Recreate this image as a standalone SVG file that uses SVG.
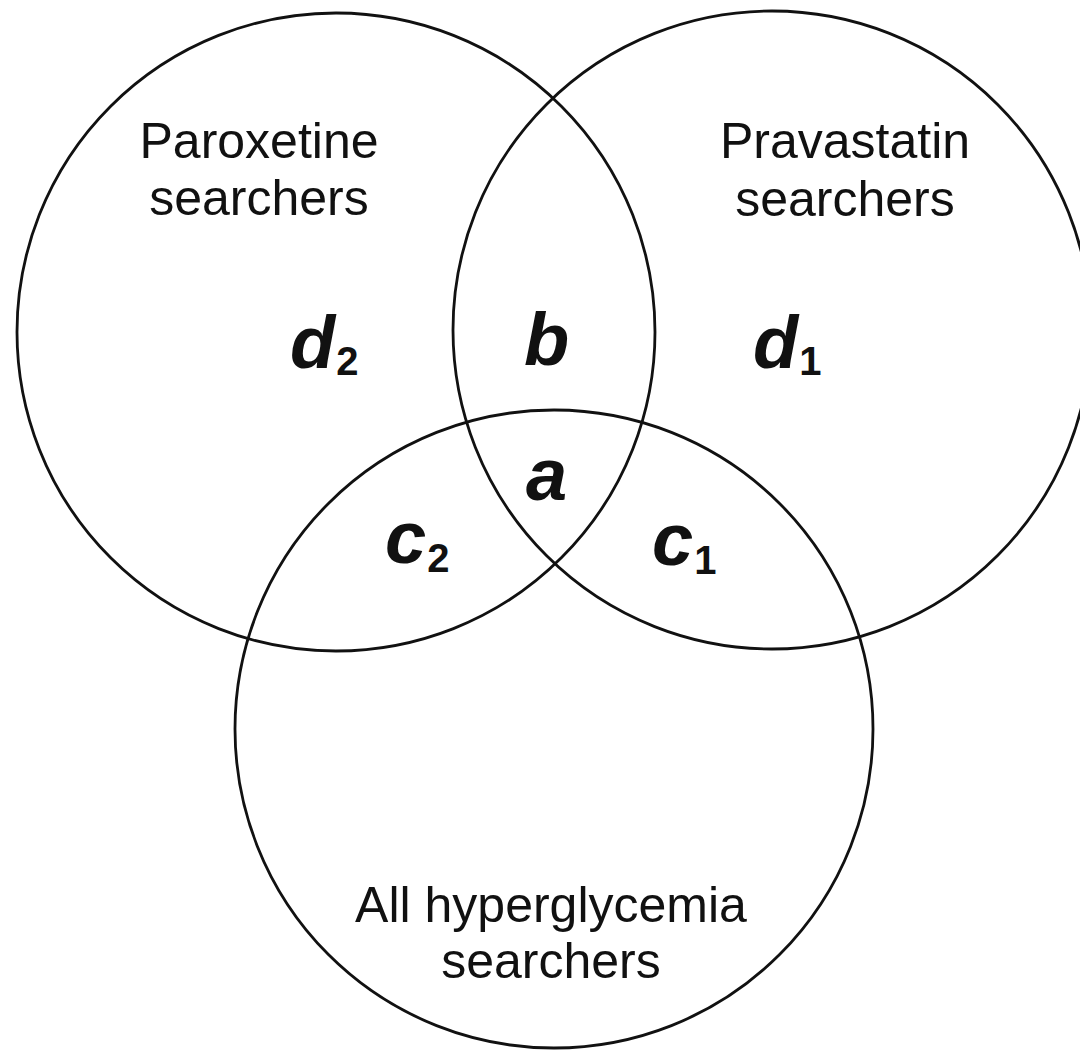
<svg xmlns="http://www.w3.org/2000/svg" width="1080" height="1053" viewBox="0 0 1080 1053">
<style>
.c{fill:none;stroke:#111;stroke-width:2.8}
.t{font-family:"Liberation Sans",Arial,sans-serif;font-size:50px;fill:#111;text-anchor:middle}
.v{font-family:"Liberation Sans",Arial,sans-serif;font-size:74px;font-weight:bold;font-style:italic;fill:#111}
.s{font-size:40px;font-style:normal}
</style>
<rect width="1080" height="1053" fill="#fff"/>
<g id="paroxetine">
<circle class="c" cx="336" cy="332" r="319"/>
<text class="t" x="259" y="158">Paroxetine</text>
<text class="t" x="259" y="215">searchers</text>
</g>
<g id="pravastatin">
<circle class="c" cx="772" cy="330" r="319"/>
<text class="t" x="845" y="158">Pravastatin</text>
<text class="t" x="845" y="216">searchers</text>
</g>
<g id="hyperglycemia">
<circle class="c" cx="554" cy="729" r="319"/>
<text class="t" x="551" y="922">All hyperglycemia</text>
<text class="t" x="551" y="978">searchers</text>
</g>
<g id="regions">
<text class="v" x="290" y="368">d<tspan class="s" dx="1" dy="7">2</tspan></text>
<text class="v" x="524" y="365">b</text>
<text class="v" x="526" y="500">a</text>
<text class="v" x="385" y="563">c<tspan class="s" dx="1" dy="9">2</tspan></text>
<text class="v" x="652" y="565">c<tspan class="s" dx="1" dy="9">1</tspan></text>
<text class="v" x="753" y="368">d<tspan class="s" dx="1" dy="7">1</tspan></text>
</g>
</svg>
